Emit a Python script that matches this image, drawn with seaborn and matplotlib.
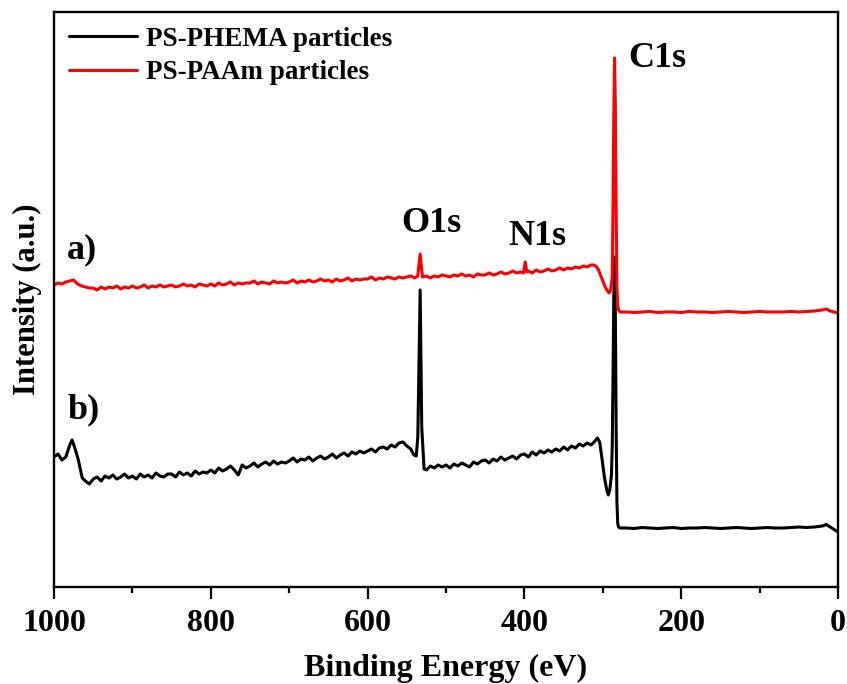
import pandas as pd
import matplotlib
matplotlib.use("Agg")
import matplotlib.pyplot as plt
import seaborn as sns

sns.set_theme(style="ticks")
plt.rcParams['font.family'] = ['Liberation Serif', 'DejaVu Serif']
plt.rcParams['font.weight'] = 'bold'
plt.rcParams['text.color'] = 'black'
plt.rcParams['axes.labelcolor'] = 'black'
plt.rcParams['xtick.color'] = 'black'
plt.rcParams['ytick.color'] = 'black'

# =================================================================
# Data: XPS survey spectra (intensity in arbitrary units)
# =================================================================
paam_ev = [
    1000, 995, 990, 985, 980, 975, 970, 965, 960, 955,
    950, 945, 940, 935, 930, 925, 920, 915, 910, 905,
    900, 895, 890, 885, 880, 875, 870, 865, 860, 855,
    850, 845, 840, 835, 830, 825, 820, 815, 810, 805,
    800, 795, 790, 785, 780, 775, 770, 765, 760, 755,
    750, 745, 740, 735, 730, 725, 720, 715, 710, 705,
    700, 695, 690, 685, 680, 675, 670, 665, 660, 655,
    650, 645, 640, 635, 630, 625, 620, 615, 610, 605,
    600, 595, 590, 585, 580, 575, 570, 565, 560, 555,
    550, 545, 540, 536, 533, 530, 525, 520, 515, 510, 505,
    500, 495, 490, 485, 480, 475, 470, 465, 460, 455,
    450, 445, 440, 435, 430, 425, 420, 415, 410, 405,
    401, 399, 397, 395, 390, 385, 380, 375, 370, 365, 360, 355,
    350, 345, 340, 335, 330, 325, 320, 315,
    312, 309, 306, 303, 300, 297, 294, 292, 290, 288, 287, 286, 285, 284, 283, 282, 281, 280, 278,
    270, 260, 250, 240, 230, 220, 210, 200, 190, 180,
    170, 160, 150, 140, 130, 120, 110, 100, 90, 80,
    70, 60, 50, 40, 30, 20, 15, 10, 5, 0,
]
paam_int = [
    302, 304, 303, 305, 306, 307, 303, 301, 300, 299,
    299, 297, 300, 298, 300, 299, 301, 298, 300, 299,
    301, 299, 300, 302, 299, 301, 300, 302, 300, 301,
    302, 300, 301, 303, 301, 302, 300, 303, 302, 301,
    303, 301, 304, 302, 303, 305, 302, 304, 303, 304,
    304, 306, 303, 305, 304, 303, 306, 304, 305, 304,
    305, 307, 304, 306, 305, 307, 305, 306, 308, 306,
    307, 305, 308, 306, 307, 309, 306, 308, 307, 308,
    308, 310, 307, 309, 308, 310, 309, 308, 310, 309,
    310, 311, 309, 311, 333, 310, 311, 309, 311, 310, 312,
    311, 310, 312, 311, 313, 311, 312, 310, 313, 312,
    312, 314, 312, 313, 315, 313, 314, 316, 314, 315,
    314, 325, 315, 316, 314, 317, 315, 316, 318, 316, 317, 319,
    317, 319, 318, 320, 319, 321, 320, 322,
    322, 321, 318, 312, 306, 300, 296, 294, 297, 310, 380, 470, 529, 480, 380, 300, 282, 277, 275,
    275, 274.5, 275, 275.5, 274.5, 275, 275, 274.5, 275.5, 275,
    275, 274.5, 275, 275.5, 275, 274.5, 275, 275.5, 275, 275,
    275, 275.5, 275, 275.5, 276, 277, 278, 276, 275, 274,
]

phema_ev = [
    1000, 995, 990, 985, 980, 977, 973, 969, 964, 960, 955,
    950, 945, 940, 935, 930, 925, 920, 915, 910, 905,
    900, 895, 890, 885, 880, 875, 870, 865, 860, 855,
    850, 845, 840, 835, 830, 825, 820, 815, 810, 805,
    800, 795, 790, 785, 780, 775, 770, 765, 760, 755,
    750, 745, 740, 735, 730, 725, 720, 715, 710, 705,
    700, 695, 690, 685, 680, 675, 670, 665, 660, 655,
    650, 645, 640, 635, 630, 625, 620, 615, 610, 605,
    600, 595, 590, 585, 580, 575, 570, 565, 560, 555,
    550, 545, 541, 538, 536, 533, 531, 528, 525, 520, 515, 510, 505,
    500, 495, 490, 485, 480, 475, 470, 465, 460, 455,
    450, 445, 440, 435, 430, 425, 420, 415, 410, 405,
    400, 395, 390, 385, 380, 375, 370, 365, 360, 355,
    350, 345, 340, 335, 330, 325, 320, 315, 310,
    307, 304, 301, 298, 295, 293, 291, 289, 288, 287, 286, 285, 284, 283, 282, 281, 280, 278,
    270, 260, 250, 240, 230, 220, 210, 200, 190, 180,
    170, 160, 150, 140, 130, 120, 110, 100, 90, 80,
    70, 60, 50, 40, 30, 20, 15, 10, 5, 0,
]
phema_int = [
    130, 133, 127, 130, 142, 147, 138, 127, 109, 106, 103,
    108, 110, 106, 111, 109, 112, 108, 110, 113, 109,
    111, 108, 113, 110, 112, 109, 114, 111, 110, 113,
    113, 110, 115, 112, 114, 111, 116, 113, 115, 114,
    117, 114, 119, 116, 118, 121, 117, 112, 122, 119,
    121, 124, 120, 123, 125, 122, 126, 123, 125, 124,
    126, 129, 125, 128, 127, 130, 126, 129, 131, 128,
    130, 133, 129, 132, 134, 131, 135, 133, 136, 134,
    136, 138, 135, 139, 140, 138, 142, 140, 144, 145,
    141, 138, 132, 131, 150, 297, 160, 118, 117, 121, 119, 122, 120,
    122, 119, 123, 121, 124, 122, 120, 125, 123, 126,
    127, 124, 128, 126, 130, 127, 129, 131, 128, 132,
    133, 130, 135, 132, 136, 134, 137, 135, 138, 136,
    140, 137, 141, 139, 143, 141, 144, 142, 146,
    149, 145, 128, 110, 97, 92, 98, 112, 140, 210, 290, 330, 270, 160, 85, 64, 60, 59,
    59, 58.5, 59.5, 59, 58.5, 59, 59.5, 58.5, 59, 59,
    59.5, 59, 58.5, 59, 59.5, 59, 58.5, 59, 59.5, 59,
    59, 59.5, 60, 59.5, 60, 61, 62.5, 60, 57.5, 55,
]

series_names = ['PS-PHEMA particles', 'PS-PAAm particles']
series_colors = ['black', 'red']

df = pd.concat([
    pd.DataFrame({'Binding Energy (eV)': phema_ev, 'Intensity': phema_int, 'Sample': series_names[0]}),
    pd.DataFrame({'Binding Energy (eV)': paam_ev, 'Intensity': paam_int, 'Sample': series_names[1]}),
], ignore_index=True)

# =================================================================
# Plot
# =================================================================
fig = plt.figure(figsize=(8.47, 6.84), dpi=100)
ax = fig.add_axes([0.0638, 0.1418, 0.9256, 0.8407])

sns.lineplot(data=df, x='Binding Energy (eV)', y='Intensity', hue='Sample',
             palette=series_colors, estimator=None, sort=False, linewidth=2.2, ax=ax)

ax.set_xlim(1000, 0)
ax.set_ylim(0, 575)
ax.set_xticks([1000, 800, 600, 400, 200, 0])
ax.set_xticks([900, 700, 500, 300, 100], minor=True)
ax.set_yticks([])
ax.tick_params(axis='x', which='major', direction='out', length=8.5, width=1.6,
               labelsize=23, pad=7)
ax.tick_params(axis='x', which='minor', direction='out', length=4.5, width=1.6)
for lbl in ax.get_xticklabels():
    lbl.set_fontweight('bold')
for sp in ax.spines.values():
    sp.set_linewidth(1.7)
    sp.set_color('black')

ax.set_xlabel('Binding Energy (eV)', fontsize=23, fontweight='bold', labelpad=12)
ax.set_ylabel('Intensity (a.u.)', fontsize=22, fontweight='bold', labelpad=9)

# Peak labels and curve tags
ax.text(268, 520, 'C1s', fontsize=26, fontweight='bold', ha='left', va='baseline')
ax.text(557, 355, 'O1s', fontsize=26, fontweight='bold', ha='left', va='baseline')
ax.text(421, 342, 'N1s', fontsize=26, fontweight='bold', ha='left', va='baseline')
ax.text(983, 329, 'a)', fontsize=26, fontweight='bold', ha='left', va='baseline')
ax.text(983, 169, 'b)', fontsize=26, fontweight='bold', ha='left', va='baseline')

ax.legend(loc='upper left', bbox_to_anchor=(0, 1), borderaxespad=0, borderpad=0.55,
          frameon=False, handlelength=2.5, handletextpad=0.35, labelspacing=0.3,
          prop={'family': 'Liberation Serif', 'weight': 'bold', 'size': 19.5})

plt.savefig('out.png', dpi=100)
